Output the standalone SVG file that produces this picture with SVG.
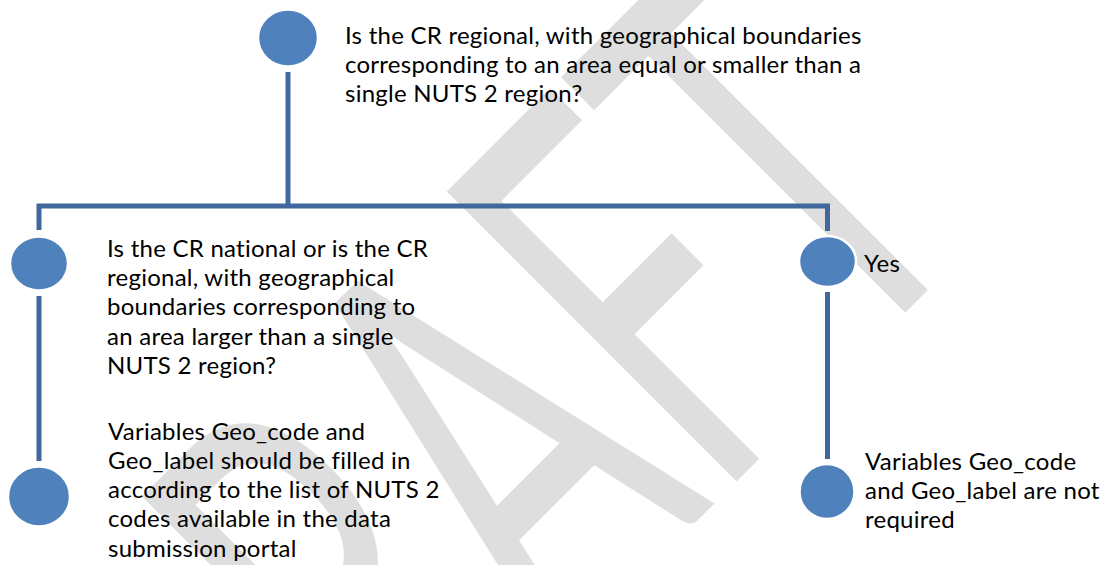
<svg xmlns="http://www.w3.org/2000/svg" width="1118" height="565" viewBox="0 0 1118 565">
  <style>
    .wm { font-family: Lato, "Open Sans", "Liberation Sans", sans-serif; font-weight: 400; fill: #dedede; }
    .dot { fill: #4f81bd; stroke: #ffffff; stroke-width: 2.5; }
    .conn { fill: none; stroke: #41689c; stroke-width: 5; stroke-linejoin: miter; stroke-linecap: butt; }
    .lbl { font-family: Lato, "Open Sans", "Liberation Sans", sans-serif; font-size: 24px; letter-spacing: 0.25px; fill: #000000; }
  </style>
  <rect x="0" y="0" width="1118" height="565" fill="#ffffff"/>
  <g id="watermark">
    <text class="wm" transform="translate(609,609) rotate(-45)" x="0" y="0" font-size="572" text-anchor="middle" textLength="1065" lengthAdjust="spacingAndGlyphs">DRAFT</text>
  </g>
  <g id="connectors">
    <line class="conn" x1="288" y1="72" x2="288" y2="206"/>
    <path class="conn" d="M39,230 V206 H827.5 V231"/>
    <line class="conn" x1="39" y1="296" x2="39" y2="461"/>
    <line class="conn" x1="827.5" y1="292" x2="827.5" y2="459"/>
  </g>
  <g id="node-top">
    <ellipse class="dot" cx="288" cy="38" rx="30" ry="28.5"/>
    <text class="lbl" x="345" y="43.5">Is the CR regional, with geographical boundaries</text>
    <text class="lbl" x="345" y="72.8">corresponding to an area equal or smaller than a</text>
    <text class="lbl" x="345" y="102.1">single NUTS 2 region?</text>
  </g>
  <g id="node-left">
    <ellipse class="dot" cx="39" cy="263.5" rx="29" ry="27"/>
    <text class="lbl" x="107" y="256.7">Is the CR national or is the CR</text>
    <text class="lbl" x="107" y="286">regional, with geographical</text>
    <text class="lbl" x="107" y="315.3">boundaries corresponding to</text>
    <text class="lbl" x="107" y="344.6">an area larger than a single</text>
    <text class="lbl" x="107" y="373.9">NUTS 2 region?</text>
  </g>
  <g id="node-left-result">
    <ellipse class="dot" cx="39" cy="496.5" rx="31" ry="30"/>
    <text class="lbl" x="108" y="439.5">Variables Geo_code and</text>
    <text class="lbl" x="108" y="468.8">Geo_label should be filled in</text>
    <text class="lbl" x="108" y="498.1">according to the list of NUTS 2</text>
    <text class="lbl" x="108" y="527.4">codes available in the data</text>
    <text class="lbl" x="108" y="556.7">submission portal</text>
  </g>
  <g id="node-yes">
    <ellipse class="dot" cx="827.5" cy="261.5" rx="28.5" ry="25.5"/>
    <text class="lbl" x="864" y="271.7">Yes</text>
  </g>
  <g id="node-right-result">
    <ellipse class="dot" cx="827" cy="491.5" rx="27.5" ry="27.5"/>
    <text class="lbl" x="865" y="470">Variables Geo_code</text>
    <text class="lbl" x="865" y="499">and Geo_label are not</text>
    <text class="lbl" x="865" y="528">required</text>
  </g>
</svg>
